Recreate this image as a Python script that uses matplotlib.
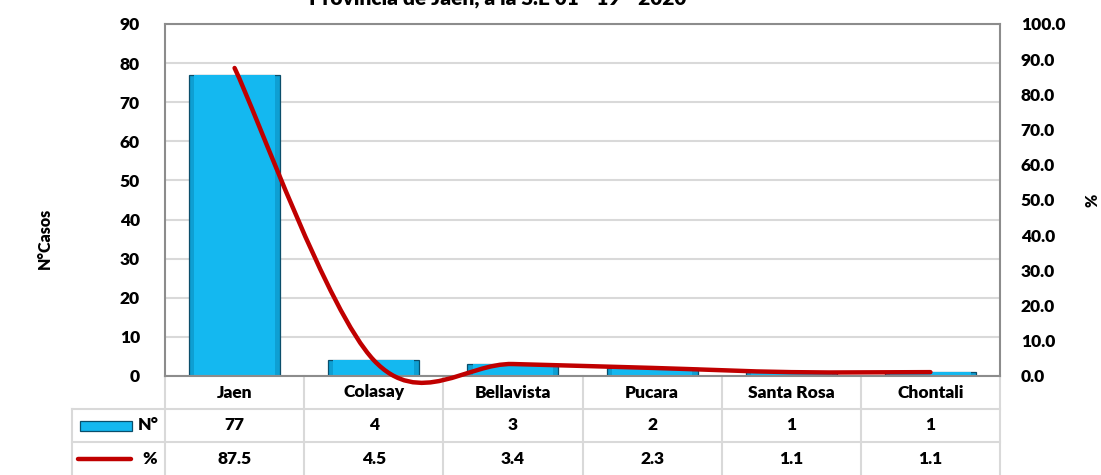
import matplotlib.pyplot as plt
import matplotlib.transforms as mtransforms
from matplotlib.path import Path
from matplotlib.patches import PathPatch, Rectangle

# datos
distritos = ['Jaen', 'Colasay', 'Bellavista', 'Pucara', 'Santa Rosa', 'Chontali']
casos = [77, 4, 3, 2, 1, 1]
porcentaje = [87.5, 4.5, 3.4, 2.3, 1.1, 1.1]
titulo = 'Provincia de Jaen, a la S.E 01 - 19 - 2020'

plt.rcParams['font.family'] = ['Lato', 'DejaVu Sans']
plt.rcParams['font.weight'] = 'heavy'
fs = 12.5

fig = plt.figure(figsize=(11.01, 4.75), dpi=100)
W, H = 1101, 475
x_left, x_right, y_top, y_bot = 165, 1000, 24, 376
ax = fig.add_axes([x_left / W, 1 - y_bot / H, (x_right - x_left) / W, (y_bot - y_top) / H])
ax2 = ax.twinx()

x = list(range(len(distritos)))
gris = '#8C8C8C'
gris_claro = '#D9D9D9'

# barras con efecto biselado
ax.bar(x, casos, width=0.655, color='#0E9FD3', edgecolor='#0A4E6B', linewidth=0.9, zorder=2)
ax.bar(x, casos, width=0.58, color='#14B8F0', linewidth=0, zorder=2.1)

ax.set_xlim(-0.5, len(distritos) - 0.5)
ax.set_ylim(0, 90)
ax.set_yticks(range(0, 91, 10))
ax.set_xticks([])
ax.yaxis.grid(True, color=gris_claro, linewidth=1.5, zorder=0)
ax.set_axisbelow(True)
ax.tick_params(axis='y', length=0, pad=18, labelsize=fs)
for s in ax.spines.values():
    s.set_color(gris)
    s.set_linewidth(1.5)

ax2.set_ylim(0, 100)
ax2.set_yticks(range(0, 101, 10))
ax2.set_yticklabels([f'{v:.1f}' for v in range(0, 101, 10)])
ax2.tick_params(axis='y', length=0, pad=15, labelsize=fs)
for s in ax2.spines.values():
    s.set_visible(False)

# linea suavizada (Catmull-Rom como Bezier)
pts = list(zip(x, porcentaje))
verts = [pts[0]]
codes = [Path.MOVETO]
n = len(pts)
for i in range(n - 1):
    p0 = pts[max(i - 1, 0)]
    p1 = pts[i]
    p2 = pts[i + 1]
    p3 = pts[min(i + 2, n - 1)]
    c1 = (p1[0] + (p2[0] - p0[0]) / 6, p1[1] + (p2[1] - p0[1]) / 6)
    c2 = (p2[0] - (p3[0] - p1[0]) / 6, p2[1] - (p3[1] - p1[1]) / 6)
    verts += [c1, c2, p2]
    codes += [Path.CURVE4] * 3
ax2.add_patch(PathPatch(Path(verts, codes), facecolor='none', edgecolor='#C00000',
                        linewidth=3.2, capstyle='round', zorder=5, clip_on=False))

fig.text(498 / W, 1 - 4 / H, titulo, ha='center', va='baseline', fontsize=15)
fig.text(45 / W, 1 - 238 / H, 'N°Casos', rotation=90, ha='center', va='center', fontsize=fs - 1)
fig.text(1092 / W, 1 - 200 / H, '%', rotation=90, ha='center', va='center', fontsize=fs - 1)

# tabla de datos
tr = mtransforms.blended_transform_factory(ax.transData, ax.transAxes)
alto = 352
fila = 33 / alto
xl = -0.5 - (x_left - 72) / 139.2
kw = dict(color=gris_claro, linewidth=1.5, transform=tr, clip_on=False, zorder=1)
for k in range(len(distritos) + 1):
    ax.plot([k - 0.5, k - 0.5], [0, -3 * fila], **kw)
ax.plot([xl, xl], [-fila, -3 * fila], **kw)
for j in (1, 2):
    ax.plot([xl, len(distritos) - 0.5], [-j * fila, -j * fila], **kw)

for i, d in enumerate(distritos):
    ax.text(i, -0.5 * fila, d, transform=tr, ha='center', va='center', fontsize=fs)
    ax.text(i, -1.5 * fila, str(casos[i]), transform=tr, ha='center', va='center', fontsize=fs)
    ax.text(i, -2.5 * fila, f'{porcentaje[i]:.1f}', transform=tr, ha='center', va='center', fontsize=fs)

# claves de leyenda en la tabla
ax.text(-0.5 - 6 / 139.2, -1.5 * fila, 'N°', transform=tr, ha='right', va='center', fontsize=fs)
ax.text(-0.5 - 8 / 139.2, -2.5 * fila, '%', transform=tr, ha='right', va='center', fontsize=fs)
ax.add_patch(Rectangle((-0.5 - 85 / 139.2, -1.5 * fila - 5 / alto), 52 / 139.2, 10 / alto,
                       facecolor='#14B8F0', edgecolor='#0A4E6B', linewidth=0.9,
                       transform=tr, clip_on=False))
ax.plot([-0.5 - 87 / 139.2, -0.5 - 34 / 139.2], [-2.5 * fila, -2.5 * fila], color='#C00000',
        linewidth=3.2, solid_capstyle='round', transform=tr, clip_on=False)

fig.savefig('out.png', dpi=100)
